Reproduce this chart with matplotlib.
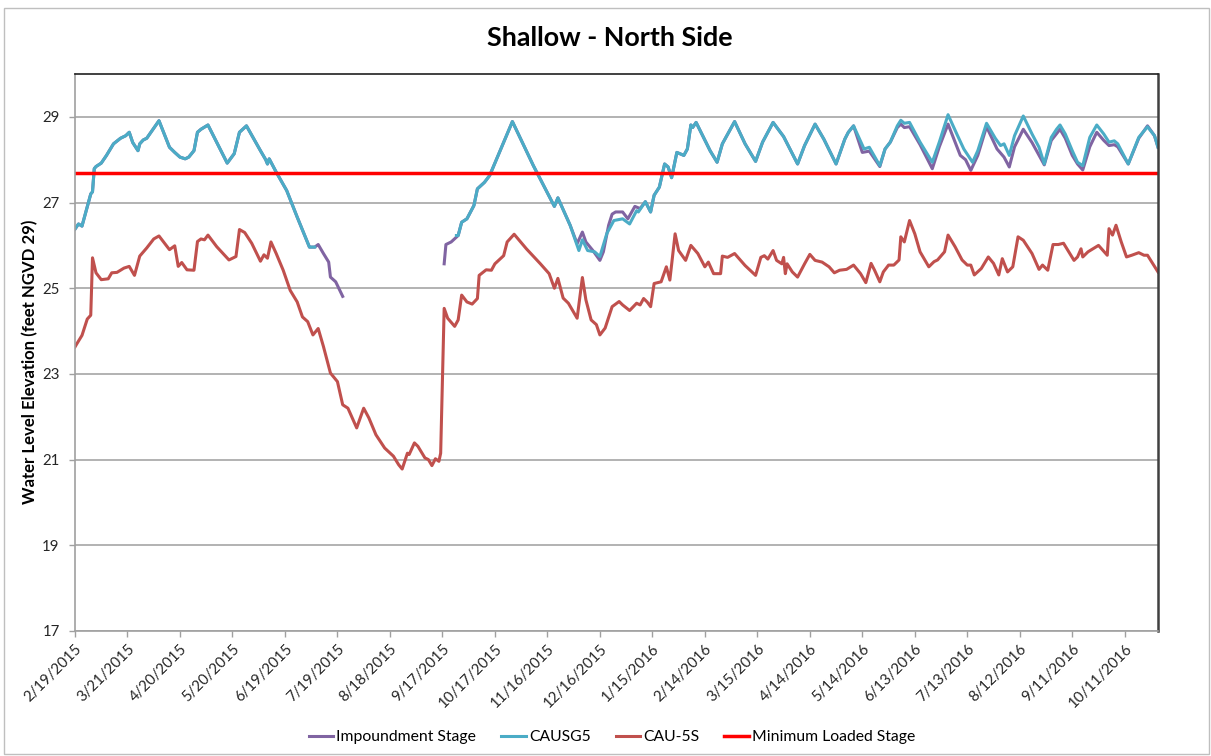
import matplotlib
matplotlib.use('agg')
import matplotlib.pyplot as plt
import matplotlib.dates as mdates
import numpy as np
import pandas as pd
from matplotlib.patches import Rectangle

plt.rcParams['font.family'] = ['Lato', 'DejaVu Sans']

# data: day offsets from 2/19/2015, water level (feet NGVD 29)
start = pd.Timestamp('2015-02-19')

imp_days = [0, 2, 4, 7, 9, 10, 11, 12, 15, 18, 22, 26, 29, 31, 33, 36, 37, 39, 41, 48, 54, 57, 60, 63, 65, 68, 70, 72, 76,
            87, 91, 94, 98, 106, 109, 110, 111, 115, 121, 127, 134, 137, 139, 142, 145, 146, 149, 153,
            154,
            211, 212, 215, 219, 221, 224, 228, 230, 234, 237, 250, 262, 274, 276, 283, 287, 290, 292, 296, 300, 302, 305,
            307, 309, 313, 316, 320, 323, 326, 329, 331, 334, 337, 339, 341, 344, 348, 350, 352, 353, 355, 363, 367, 370,
            377, 383, 389, 393, 399, 405, 413, 417, 423, 428, 435, 440, 442, 445, 450, 454, 460, 463, 466, 470, 472, 474,
            477, 483, 490, 494, 499, 506, 509, 512, 516, 521, 527, 531, 534, 537, 542, 547, 551, 554, 558, 563, 566, 570,
            573, 576, 580, 584, 588, 591, 594, 596, 602, 608, 613, 617, 619]
imp_vals = [26.38, 26.5, 26.45, 26.9, 27.2, 27.25, 27.79, 27.84, 27.92, 28.1, 28.37, 28.5, 28.56, 28.64, 28.4, 28.21, 28.37,
            28.46, 28.5, 28.91, 28.29, 28.17, 28.06, 28.02, 28.06, 28.21, 28.64, 28.71, 28.81,
            27.92, 28.14, 28.64, 28.79, 28.21, 28.0, 27.9, 28.02, 27.71, 27.28, 26.66, 25.96, 25.96, 26.02, 25.81, 25.61,
            25.26, 25.15, 24.81,
            np.nan,
            25.57, 26.02, 26.08, 26.23, 26.54, 26.62, 26.93, 27.32, 27.47, 27.63, 28.89, 27.86, 26.91, 27.11, 26.47,
            26.04, 26.31, 26.08, 25.88, 25.65, 25.85, 26.47,
            26.73, 26.78, 26.78, 26.62, 26.91, 26.86, 27.02, 26.78, 27.17, 27.36, 27.9, 27.83, 27.58, 28.17, 28.1, 28.25,
            28.81, 28.75, 28.87, 28.21, 27.94, 28.37,
            28.89, 28.37, 27.96, 28.41, 28.87, 28.54, 27.9, 28.33, 28.83, 28.48, 27.9, 28.48, 28.64, 28.79, 28.17, 28.2,
            27.84, 28.25, 28.41, 28.75, 28.83, 28.75,
            28.77, 28.35, 27.79, 28.3, 28.83, 28.1, 28.0, 27.75, 28.1, 28.77, 28.25, 28.06, 27.83, 28.3, 28.71, 28.4,
            28.1, 27.88, 28.45, 28.71, 28.5, 28.1,
            27.9, 27.76, 28.3, 28.64, 28.45, 28.33, 28.35, 28.3, 27.9, 28.5, 28.79, 28.56, 28.29]

gs5_days = [0, 2, 4, 7, 9, 10, 11, 12, 15, 18, 22, 26, 29, 31, 33, 36, 37, 39, 41, 48, 54, 57, 60, 63, 65, 68, 70, 72, 76,
            87, 91, 94, 98, 106, 109, 110, 111, 115, 121, 127, 134, 137,
            138,
            218, 219, 221, 224, 228, 230, 234, 237, 250, 262, 274, 276, 283, 288, 290, 293, 297, 300, 304, 308, 313, 317,
            321, 322, 326, 329, 331, 334, 337, 339, 341, 344, 348, 350, 352, 353, 355, 363, 367, 370, 377, 383, 389, 393,
            399, 405, 413, 417, 423, 428, 435, 440, 442, 445, 451, 454, 460, 463, 466, 470, 472, 474, 477, 483, 490, 494,
            499, 504, 508, 513, 516, 521, 526, 529, 531, 534, 537, 542, 547, 551, 554, 558, 561, 563, 566, 570, 573, 576,
            580, 584, 588, 591, 594, 596, 602, 608, 613, 617, 619]
gs5_vals = [26.38, 26.5, 26.45, 26.9, 27.2, 27.25, 27.79, 27.84, 27.92, 28.1, 28.37, 28.5, 28.56, 28.64, 28.4, 28.21, 28.37,
            28.46, 28.5, 28.91, 28.29, 28.17, 28.06, 28.02, 28.06, 28.21, 28.64, 28.71, 28.81,
            27.92, 28.14, 28.64, 28.79, 28.21, 28.0, 27.9, 28.02, 27.71, 27.28, 26.66, 25.96, 25.96,
            np.nan,
            26.23, 26.23, 26.54, 26.62, 26.93, 27.32, 27.47, 27.63, 28.89, 27.86, 26.91, 27.11, 26.47, 25.88, 26.13,
            25.88, 25.85, 25.74, 26.28, 26.58, 26.62, 26.5,
            26.81, 26.78, 27.02, 26.78, 27.17, 27.36, 27.9, 27.83, 27.58, 28.17, 28.1, 28.25, 28.81, 28.75, 28.87, 28.21,
            27.94, 28.37, 28.89, 28.37, 27.96, 28.41,
            28.87, 28.54, 27.9, 28.33, 28.83, 28.48, 27.9, 28.48, 28.64, 28.79, 28.25, 28.29, 27.86, 28.25, 28.41, 28.79,
            28.92, 28.85, 28.87, 28.41, 27.94, 28.41,
            29.05, 28.6, 28.25, 27.94, 28.21, 28.85, 28.5, 28.33, 28.37, 28.1, 28.56, 29.02, 28.6, 28.29, 27.9, 28.52,
            28.71, 28.81, 28.6, 28.21, 27.94, 27.86,
            28.52, 28.81, 28.6, 28.41, 28.44, 28.37, 27.9, 28.52, 28.77, 28.56, 28.29]

cau_days = [0, 1, 4, 7, 9, 10, 12, 15, 19, 21, 24, 28, 31, 34, 37, 41, 45, 48, 54, 57, 59, 61, 64, 68, 70, 72, 74, 76, 81,
            88, 92, 94, 97, 101, 106, 108, 110, 112, 115, 119, 123, 127, 130, 133, 136, 139, 142, 146, 150, 153, 156,
            161, 165, 168, 172, 177, 182, 185, 187, 190, 191, 194, 196, 200, 202, 204, 206, 208, 209, 211, 213, 217,
            219, 221, 224, 227, 230, 231, 235, 238, 240, 245, 247, 251, 258, 266, 271, 274, 276, 279, 282, 287, 290,
            292, 295, 298, 300, 303, 307, 311, 313, 317, 321, 323, 325, 327, 329, 331, 335, 338, 340, 343, 345, 349,
            352, 356, 360, 362, 365, 369, 370, 373, 377, 383, 389, 392, 394, 396, 399, 401, 404, 405, 406, 407, 410,
            413, 417, 420, 423, 427, 431, 434, 437, 441, 445, 449, 452, 455, 457, 460, 462, 465, 468, 471, 472, 474,
            477, 480, 483, 488, 491, 493, 497, 499, 503, 507, 510, 512, 514, 518, 522, 525, 528, 530, 533, 536, 539,
            542, 547, 551, 553, 556, 559, 562, 565, 571, 573, 575, 576, 579, 585, 590, 591, 593, 595, 598, 601, 604,
            608, 611, 613, 619]
cau_vals = [23.63, 23.7, 23.9, 24.28, 24.37, 25.71, 25.36, 25.2, 25.22, 25.36, 25.37, 25.47, 25.51, 25.3, 25.75, 25.94,
            26.15, 26.22, 25.9, 25.99, 25.51, 25.6, 25.43, 25.42, 26.09, 26.15, 26.13, 26.24, 25.97,
            25.66, 25.74, 26.37, 26.3, 26.05, 25.63, 25.78, 25.7, 26.08, 25.81, 25.42, 24.95, 24.68, 24.33, 24.22,
            23.91, 24.06, 23.64, 23.02, 22.82, 22.28, 22.2,
            21.74, 22.2, 21.97, 21.58, 21.27, 21.08, 20.88, 20.78, 21.15, 21.12, 21.39, 21.31, 21.04, 21.0, 20.86,
            21.02, 20.96, 21.15, 24.53, 24.3, 24.11,
            24.26, 24.84, 24.68, 24.63, 24.76, 25.3, 25.43, 25.42, 25.57, 25.76, 26.08, 26.26, 25.92, 25.57, 25.34,
            25.0, 25.23, 24.77, 24.65, 24.3, 25.25,
            24.73, 24.26, 24.15, 23.91, 24.07, 24.57, 24.69, 24.61, 24.48, 24.65, 24.61, 24.76, 24.68, 24.57, 25.11,
            25.15, 25.5, 25.19, 26.27, 25.88, 25.65,
            26.0, 25.81, 25.5, 25.61, 25.34, 25.34, 25.75, 25.72, 25.81, 25.53, 25.3, 25.72, 25.76, 25.68, 25.88,
            25.65, 25.57, 25.72, 25.34, 25.57, 25.38,
            25.26, 25.57, 25.79, 25.65, 25.61, 25.5, 25.36, 25.42, 25.44, 25.54, 25.34, 25.13, 25.58, 25.42, 25.15,
            25.38, 25.54, 25.54, 25.66, 26.2, 26.08,
            26.58, 26.27, 25.85, 25.5, 25.62, 25.66, 25.85, 26.24, 25.97, 25.66, 25.54, 25.54, 25.31, 25.46, 25.73,
            25.58, 25.31, 25.69, 25.38, 25.5, 26.2,
            26.12, 25.81, 25.44, 25.54, 25.42, 26.02, 26.02, 26.05, 25.65, 25.73, 25.92, 25.73, 25.85, 26.0, 25.77,
            26.39, 26.24, 26.47, 26.08, 25.73, 25.77,
            25.83, 25.77, 25.77, 25.38]

min_stage = 27.7
end_day = 619

imp_dates = start + pd.to_timedelta(imp_days, unit='D')
gs5_dates = start + pd.to_timedelta(gs5_days, unit='D')
cau_dates = start + pd.to_timedelta(cau_days, unit='D')
end = start + pd.Timedelta(days=end_day)

fig = plt.figure(figsize=(12.11, 7.56), dpi=100)
ax = fig.add_axes([75/1211, 1-631/756, (1158-75)/1211, (631-74)/756])

ax.plot(imp_dates, imp_vals, color='#8064A2', lw=2.2, label='Impoundment Stage')
ax.plot(gs5_dates, gs5_vals, color='#4BACC6', lw=2.2, label='CAUSG5')
ax.plot(cau_dates, cau_vals, color='#C0504D', lw=2.2, label='CAU-5S')
ax.plot([start, end], [min_stage, min_stage], color='#FF0000', lw=2.5, label='Minimum Loaded Stage')

ax.set_xlim(start, end)
ax.set_ylim(17, 30)
ax.set_yticks(np.arange(17, 30, 2))
ax.set_xticks(pd.date_range(start, end, freq='30D'))
ax.xaxis.set_major_formatter(mdates.DateFormatter('%-m/%-d/%Y'))
plt.setp(ax.get_xticklabels(), rotation=45, ha='right', rotation_mode='anchor')
ax.tick_params(axis='both', labelsize=10.8, labelcolor='#262626', color='#a0a0a0',
               direction='out', length=4, width=1)
ax.tick_params(axis='y', pad=7)
ax.tick_params(axis='x', pad=4)
ax.grid(axis='y', color='#a6a6a6', lw=1.2)
ax.set_axisbelow(True)
for s in ['left', 'bottom']:
    ax.spines[s].set_color('#a0a0a0')
    ax.spines[s].set_linewidth(1.2)
ax.spines['top'].set_color('#202020')
ax.spines['top'].set_linewidth(1.2)
ax.spines['right'].set_color('#404040')
ax.spines['right'].set_linewidth(1.8)

ylab = ax.set_ylabel('Water Level Elevation (feet NGVD 29)', fontsize=11, fontweight='bold')
ylab.set_va('center')
ax.yaxis.set_label_coords((30-75)/1083, 0.483)
title = fig.text(610/1211, 1-38/756, 'Shallow - North Side', ha='center', va='center',
                 fontsize=18, fontweight='bold')

leg = fig.legend(loc='center', bbox_to_anchor=(612/1211, 1-737/756), ncol=4, frameon=False, fontsize=11.3,
                 handlelength=1.55, handletextpad=0.2, columnspacing=1.6)

# size title / axis label to the reference's pixel lengths
r = fig.canvas.get_renderer()
for _ in range(3):
    bb = title.get_window_extent(r)
    title.set_fontsize(title.get_fontsize() * 246 / bb.width)
    bb = ylab.get_window_extent(r)
    ylab.set_fontsize(ylab.get_fontsize() * 284 / bb.height)

fig.patches.append(Rectangle((4/1211, 2/756), 1-6/1211, 1-10/756, transform=fig.transFigure,
                             fill=False, edgecolor='#bfbfbf', lw=1))

fig.savefig('out.png', dpi=100)
